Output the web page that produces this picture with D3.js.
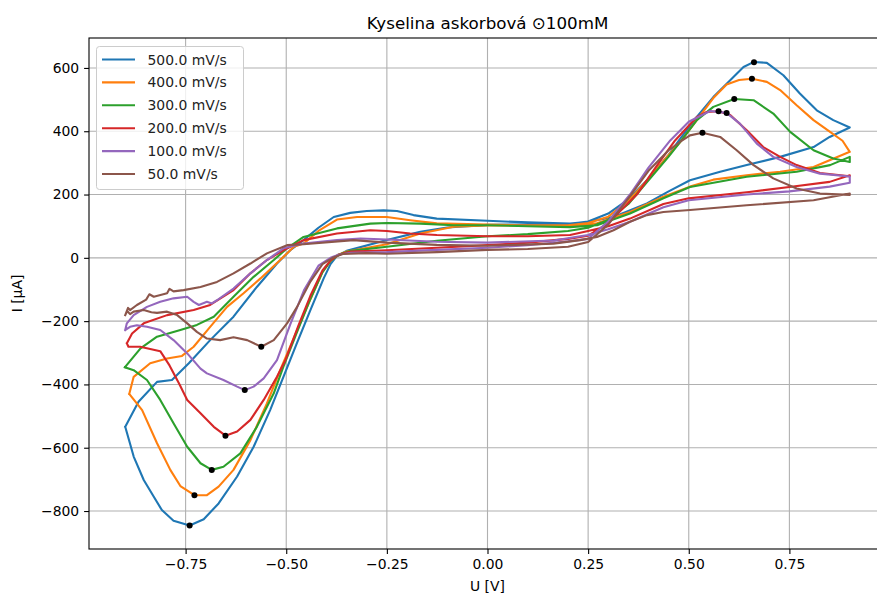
<!DOCTYPE html>
<html><head><meta charset="utf-8">
<script src="https://cdn.jsdelivr.net/npm/d3@7"></script>
<style>body{margin:0;background:#fff}svg{display:block;font-family:"DejaVu Sans",sans-serif}</style>
</head><body><svg id="c" width="877" height="596"></svg>
<script>
// ---- data: each loop = forward sweep (from -0.9 V) then reverse sweep ----
const labels = ["500.0 mV/s","400.0 mV/s","300.0 mV/s","200.0 mV/s","100.0 mV/s","50.0 mV/s"];
const colors = ["#1f77b4","#ff7f0e","#2ca02c","#d62728","#9467bd","#8c564b"];
const xTicks = [-0.75,-0.5,-0.25,0,0.25,0.5,0.75];
const yTicks = [-800,-600,-400,-200,0,200,400,600];

const s500 = [[-0.9,-534],[-0.879,-628],[-0.854,-702],[-0.829,-755],[-0.809,-797],[-0.78,-831],[-0.74,-846],[-0.705,-826],[-0.668,-776],[-0.622,-691],[-0.581,-597],[-0.54,-481],[-0.507,-376],[-0.473,-268],[-0.44,-165],[-0.407,-65],[-0.39,-20],[-0.375,5],[-0.35,22],[-0.25,56],[-0.167,82],[-0.1,96],[0,104],[0.1,106],[0.2,107],[0.25,115],[0.3,140],[0.35,185],[0.4,250],[0.45,325],[0.478,375],[0.52,445],[0.561,508],[0.603,561],[0.636,603],[0.662,619],[0.694,616],[0.735,577],[0.776,519],[0.818,466],[0.859,435],[0.9,412],
 [0.85,382],[0.81,350],[0.727,319],[0.644,293],[0.578,272],[0.503,245],[0.45,210],[0.396,172],[0.313,129],[0.25,114],[0.205,108],[0.1,112],[0,117],[-0.126,124],[-0.184,135],[-0.225,148],[-0.258,150],[-0.3,148],[-0.341,142],[-0.382,129],[-0.42,95],[-0.457,56],[-0.49,24],[-0.523,-18],[-0.573,-92],[-0.631,-186],[-0.689,-260],[-0.742,-333],[-0.784,-386],[-0.821,-392],[-0.867,-455],[-0.9,-534]];
const s400 = [[-0.89,-430],[-0.858,-481],[-0.821,-586],[-0.788,-670],[-0.763,-721],[-0.728,-750],[-0.697,-750],[-0.668,-723],[-0.631,-670],[-0.589,-576],[-0.548,-460],[-0.515,-355],[-0.48,-250],[-0.445,-145],[-0.41,-45],[-0.39,-10],[-0.37,10],[-0.35,20],[-0.25,43],[-0.167,77],[-0.084,98],[0,102],[0.1,103],[0.2,103],[0.25,110],[0.3,130],[0.35,180],[0.4,250],[0.45,325],[0.478,365],[0.52,435],[0.561,505],[0.594,548],[0.625,562],[0.657,566],[0.694,556],[0.727,530],[0.768,482],[0.81,435],[0.851,398],[0.882,370],
 [0.9,335],[0.81,287],[0.727,272],[0.644,261],[0.561,247],[0.503,225],[0.437,193],[0.354,145],[0.272,109],[0.205,100],[0.1,102],[0,105],[-0.126,109],[-0.192,119],[-0.25,129],[-0.324,129],[-0.374,121],[-0.42,85],[-0.457,45],[-0.481,35],[-0.515,-7],[-0.564,-65],[-0.606,-112],[-0.647,-155],[-0.689,-218],[-0.73,-281],[-0.759,-310],[-0.796,-318],[-0.838,-333],[-0.879,-376],[-0.89,-430]];
const s300 = [[-0.901,-346],[-0.879,-355],[-0.846,-386],[-0.813,-449],[-0.78,-523],[-0.746,-597],[-0.713,-649],[-0.685,-670],[-0.656,-660],[-0.614,-618],[-0.573,-534],[-0.531,-428],[-0.507,-344],[-0.475,-240],[-0.44,-130],[-0.41,-45],[-0.39,-10],[-0.37,10],[-0.34,22],[-0.25,35],[-0.126,54],[0,68],[0.1,75],[0.2,85],[0.25,95],[0.3,120],[0.35,170],[0.4,245],[0.45,320],[0.478,365],[0.52,435],[0.561,477],[0.613,502],[0.661,498],[0.71,456],[0.752,398],[0.81,340],[0.859,314],[0.9,303],
 [0.9,319],[0.851,293],[0.768,272],[0.644,256],[0.503,224],[0.437,188],[0.354,140],[0.272,103],[0.205,97],[0.1,100],[0,103],[-0.084,103],[-0.167,108],[-0.25,110],[-0.291,108],[-0.374,93],[-0.457,66],[-0.498,30],[-0.531,-7],[-0.581,-60],[-0.631,-123],[-0.68,-186],[-0.722,-212],[-0.763,-228],[-0.821,-249],[-0.862,-286],[-0.901,-346]];
const s200 = [[-0.896,-270],[-0.892,-281],[-0.863,-281],[-0.813,-295],[-0.79,-340],[-0.765,-400],[-0.746,-449],[-0.713,-491],[-0.68,-534],[-0.651,-562],[-0.622,-549],[-0.589,-512],[-0.556,-449],[-0.523,-376],[-0.502,-323],[-0.47,-215],[-0.44,-120],[-0.41,-40],[-0.39,-8],[-0.37,10],[-0.34,20],[-0.25,24],[-0.126,32],[0,40],[0.1,48],[0.2,60],[0.25,70],[0.3,110],[0.371,200],[0.42,290],[0.466,371],[0.52,445],[0.545,461],[0.574,463],[0.603,451],[0.644,403],[0.685,350],[0.727,319],[0.768,293],[0.826,268],[0.9,258],
 [0.9,261],[0.85,240],[0.75,224],[0.65,208],[0.5,188],[0.437,170],[0.354,124],[0.3,100],[0.25,85],[0.205,72],[0.1,68],[0,68],[-0.126,72],[-0.192,77],[-0.25,85],[-0.291,87],[-0.374,77],[-0.457,56],[-0.507,24],[-0.548,-7],[-0.589,-49],[-0.631,-102],[-0.689,-149],[-0.73,-165],[-0.796,-181],[-0.854,-207],[-0.883,-239],[-0.896,-270]];
const s100 = [[-0.9,-228],[-0.888,-218],[-0.871,-213],[-0.846,-218],[-0.813,-228],[-0.78,-260],[-0.746,-302],[-0.713,-350],[-0.697,-365],[-0.656,-386],[-0.622,-407],[-0.603,-418],[-0.581,-407],[-0.556,-381],[-0.523,-323],[-0.49,-210],[-0.455,-100],[-0.42,-25],[-0.39,0],[-0.37,10],[-0.34,16],[-0.25,18],[-0.126,25],[0,32],[0.1,40],[0.2,52],[0.25,60],[0.3,115],[0.354,200],[0.4,285],[0.454,371],[0.5,430],[0.553,464],[0.594,458],[0.627,424],[0.669,361],[0.71,319],[0.768,287],[0.826,266],[0.9,257],
 [0.9,237],[0.85,225],[0.75,210],[0.644,200],[0.5,182],[0.437,160],[0.354,114],[0.3,90],[0.25,72],[0.164,55],[0,48],[-0.126,51],[-0.25,58],[-0.316,61],[-0.374,56],[-0.457,45],[-0.507,30],[-0.548,-7],[-0.589,-49],[-0.631,-97],[-0.672,-134],[-0.685,-144],[-0.697,-139],[-0.717,-149],[-0.73,-139],[-0.746,-123],[-0.78,-128],[-0.813,-139],[-0.846,-155],[-0.879,-181],[-0.896,-207],[-0.9,-228]];
const s50 = [[-0.9,-181],[-0.895,-168],[-0.888,-178],[-0.879,-170],[-0.854,-165],[-0.835,-172],[-0.821,-174],[-0.796,-170],[-0.771,-181],[-0.746,-207],[-0.722,-234],[-0.697,-255],[-0.664,-260],[-0.631,-251],[-0.597,-260],[-0.562,-281],[-0.531,-260],[-0.498,-207],[-0.473,-155],[-0.44,-75],[-0.41,-20],[-0.385,0],[-0.36,12],[-0.3,15],[-0.25,13],[-0.126,18],[0,25],[0.1,28],[0.2,35],[0.25,50],[0.3,105],[0.354,195],[0.4,275],[0.45,340],[0.478,366],[0.503,387],[0.534,395],[0.578,382],[0.619,340],[0.661,293],[0.71,251],[0.768,219],[0.826,203],[0.9,199],
 [0.9,203],[0.81,182],[0.644,166],[0.503,151],[0.437,145],[0.396,135],[0.354,114],[0.313,87],[0.272,66],[0.23,56],[0.164,45],[0,38],[-0.126,41],[-0.25,48],[-0.333,56],[-0.457,43],[-0.498,40],[-0.548,14],[-0.589,-18],[-0.631,-49],[-0.672,-76],[-0.713,-92],[-0.755,-102],[-0.78,-106],[-0.79,-98],[-0.796,-112],[-0.829,-123],[-0.84,-115],[-0.848,-132],[-0.871,-149],[-0.888,-165],[-0.893,-158],[-0.9,-181]];
const oxPeaks = [[0.662,618],[0.657,566],[0.613,502],[0.574,463],[0.594,458],[0.534,395]];
const redPeaks = [[-0.74,-846],[-0.728,-750],[-0.685,-670],[-0.651,-562],[-0.603,-418],[-0.562,-281]];
const series = [s500,s400,s300,s200,s100,s50];

// ---- layout ----
const svg = d3.select("#c");
const L=89, R=886, T=38, B=549;
const x = d3.scaleLinear().domain([-0.99,0.99]).range([L,R]);
const y = d3.scaleLinear().domain([-920,694.6]).range([B,T]);
const fmtX = d => d3.format(".2f")(d).replace("-","\u2212");
const fmtY = d => String(d).replace("-","\u2212");

svg.append("defs").append("clipPath").attr("id","clip").append("rect")
  .attr("x",L).attr("y",T).attr("width",R-L).attr("height",B-T);

// grid
const g = svg.append("g");
g.selectAll(".gx").data(xTicks).join("line")
  .attr("x1",d=>x(d)).attr("x2",d=>x(d)).attr("y1",T).attr("y2",B)
  .attr("stroke","#b0b0b0").attr("stroke-width",1.1);
g.selectAll(".gy").data(yTicks).join("line")
  .attr("x1",L).attr("x2",R).attr("y1",d=>y(d)).attr("y2",d=>y(d))
  .attr("stroke","#b0b0b0").attr("stroke-width",1.1);

// curves
const line = d3.line().x(d=>x(d[0])).y(d=>y(d[1]));
const pg = svg.append("g").attr("clip-path","url(#clip)");
series.forEach((s,i)=>{
  pg.append("path").attr("d",line(s)).attr("fill","none")
    .attr("stroke",colors[i]).attr("stroke-width",2.1)
    .attr("stroke-linejoin","round").attr("stroke-linecap","square");
});
pg.selectAll(".pk").data(oxPeaks.concat(redPeaks)).join("circle")
  .attr("cx",d=>x(d[0])).attr("cy",d=>y(d[1])).attr("r",3).attr("fill","#000");

// axes
const ax = svg.append("g").attr("transform",`translate(0,${B})`)
  .call(d3.axisBottom(x).tickValues(xTicks).tickFormat(fmtX).tickSize(4.9).tickPadding(4.9));
const ay = svg.append("g").attr("transform",`translate(${L},0)`)
  .call(d3.axisLeft(y).tickValues(yTicks).tickFormat(fmtY).tickSize(4.9).tickPadding(4.9));
[ax,ay].forEach(a=>{
  a.select(".domain").remove();
  a.selectAll("line").attr("stroke","#000").attr("stroke-width",1.1);
  a.selectAll("text").attr("font-size","13.9px").attr("fill","#000").attr("font-family","DejaVu Sans");
});
// spines
svg.append("rect").attr("x",L).attr("y",T).attr("width",R-L).attr("height",B-T)
  .attr("fill","none").attr("stroke","#000").attr("stroke-width",1.1);

// labels
svg.append("text").attr("x",(L+R)/2).attr("y",29).attr("text-anchor","middle")
  .attr("font-size","16.7px").text("Kyselina askorbová \u2299100mM");
svg.append("text").attr("x",(L+R)/2).attr("y",591).attr("text-anchor","middle")
  .attr("font-size","13.9px").text("U [V]");
svg.append("text").attr("transform",`translate(22,${(T+B)/2}) rotate(-90)`).attr("text-anchor","middle")
  .attr("font-size","13.9px").text("I [μA]");

// legend
const lg = svg.append("g");
lg.append("rect").attr("x",96.5).attr("y",46.5).attr("width",147).attr("height",143)
  .attr("rx",3).attr("fill","#fff").attr("fill-opacity",0.8).attr("stroke","#cccccc");
labels.forEach((lb,i)=>{
  const yy = 59.5 + i*22.9;
  lg.append("line").attr("x1",102).attr("x2",135).attr("y1",yy).attr("y2",yy)
    .attr("stroke",colors[i]).attr("stroke-width",2.1);
  lg.append("text").attr("x",147.5).attr("y",yy+5).attr("font-size","13.9px").attr("fill","#222").text(lb);
});
</script></body></html>
